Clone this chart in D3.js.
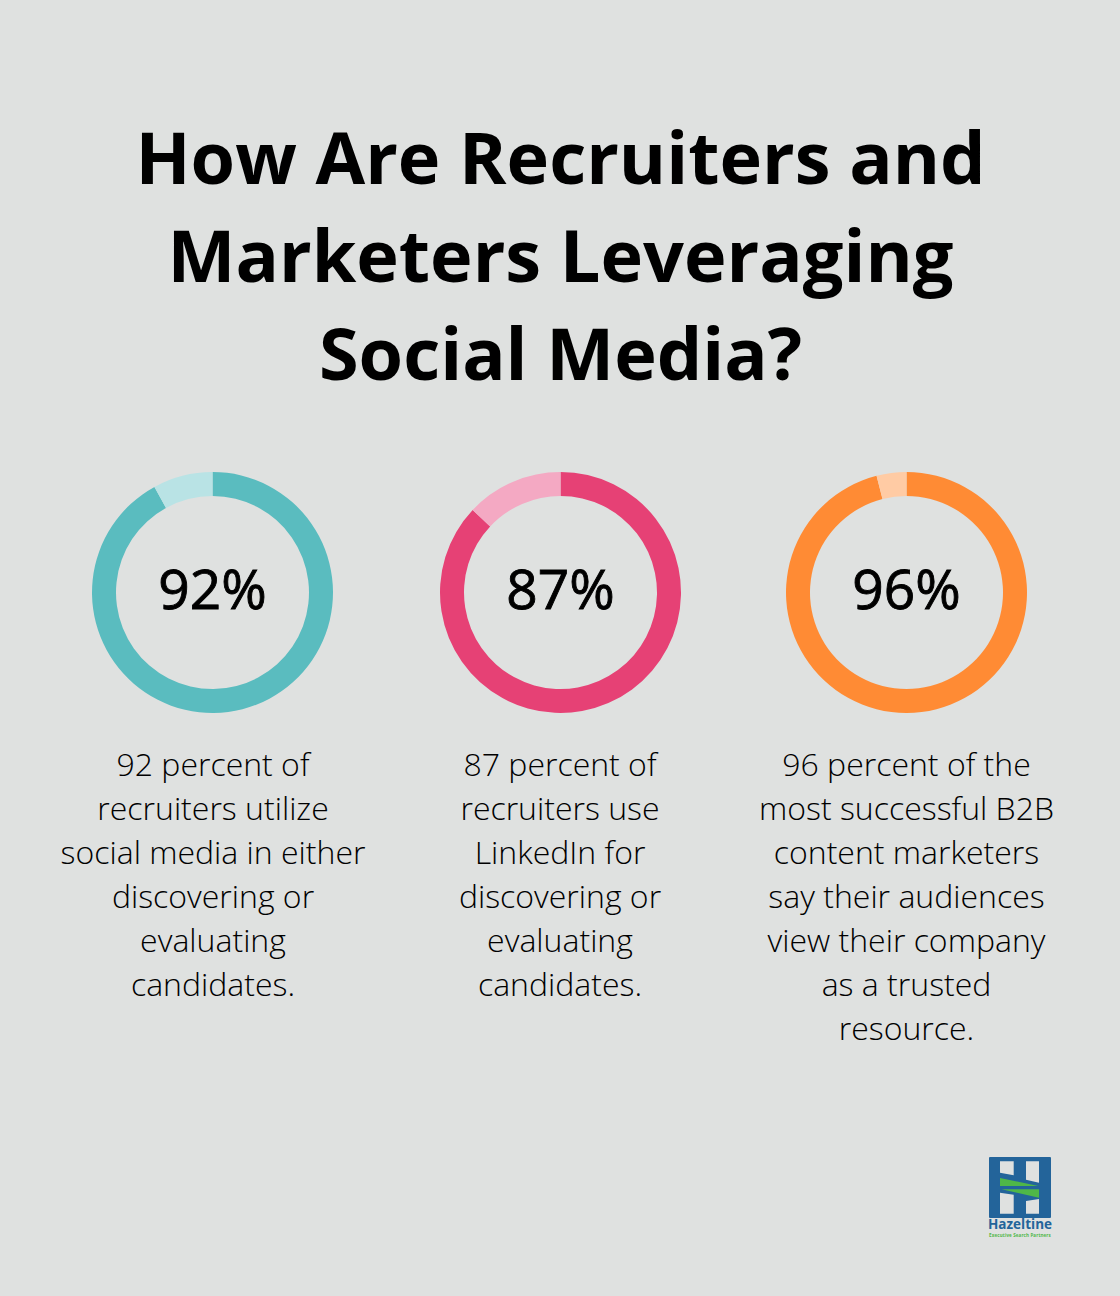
<!DOCTYPE html>
<html>
<head>
<meta charset="utf-8">
<script src="https://cdn.jsdelivr.net/npm/d3@7"></script>
<style>
  html, body { margin: 0; padding: 0; background: #dfe1e0; }
  svg { display: block; }
  text { font-family: "Open Sans", sans-serif; }
</style>
</head>
<body>
<div class="chart"></div>
<script>
// values
var percents = [92, 87, 96];
var colors = ['#5abcbf', '#e64175', '#ff8b34'];
var paleColors = ['#b9e3e5', '#f4a9c3', '#ffcba4'];
var titleLines = ['How Are Recruiters and', 'Marketers Leveraging', 'Social Media?'];
var captions = [
  ['92 percent of', 'recruiters utilize', 'social media in either', 'discovering or', 'evaluating', 'candidates.'],
  ['87 percent of', 'recruiters use', 'LinkedIn for', 'discovering or', 'evaluating', 'candidates.'],
  ['96 percent of the', 'most successful B2B', 'content marketers', 'say their audiences', 'view their company', 'as a trusted', 'resource.']
];

var options = {
  width: 1120,
  height: 1296,
  centers: [212.5, 560.5, 906.5],
  ringY: 592.5,
  outer: 120.5,
  inner: 96.5
};

var svg = d3.select('.chart').append('svg')
  .attr('width', options.width)
  .attr('height', options.height);

svg.append('rect')
  .attr('width', options.width)
  .attr('height', options.height)
  .attr('fill', '#dfe1e0');

// title
svg.selectAll('text.title').data(titleLines).enter().append('text')
  .attr('class', 'title')
  .attr('x', 560.5)
  .attr('y', function(d, i) { return 184 + i * 98; })
  .attr('text-anchor', 'middle')
  .attr('font-size', 72)
  .attr('font-weight', 700)
  .attr('fill', '#000')
  .text(function(d) { return d; });

// rings: the full share starts at 12 o'clock, going clockwise, pale part is the remainder
var pie = d3.pie().sort(null);
var arc = d3.arc().innerRadius(options.inner).outerRadius(options.outer);

var groups = svg.selectAll('g.ring').data(percents).enter().append('g')
  .attr('class', 'ring')
  .attr('transform', function(d, i) {
    return 'translate(' + options.centers[i] + ',' + options.ringY + ')';
  });

groups.each(function(p, i) {
  d3.select(this).selectAll('path').data(pie([p, 100 - p])).enter().append('path')
    .attr('d', arc)
    .attr('fill', function(d, j) { return j === 0 ? colors[i] : paleColors[i]; });
});

// no medium weight installed, so regular plus a hairline stroke
groups.append('text')
  .attr('y', 16.5)
  .attr('text-anchor', 'middle')
  .attr('font-size', 55)
  .attr('font-weight', 400)
  .attr('fill', '#000')
  .attr('stroke', '#000')
  .attr('stroke-width', 0.9)
  .text(function(d) { return d + '%'; });

// captions
captions.forEach(function(lines, i) {
  svg.selectAll('text.cap' + i).data(lines).enter().append('text')
    .attr('class', 'cap' + i)
    .attr('x', i === 0 ? options.centers[i] + 0.5 : options.centers[i] - (i === 1 ? 0.5 : 0))
    .attr('y', function(d, j) { return 776 + j * 44; })
    .attr('text-anchor', 'middle')
    .attr('font-size', 32)
    .attr('font-weight', 300)
    .attr('fill', '#000')
    .text(function(d) { return d; });
});

// logo
var logo = svg.append('g').attr('transform', 'translate(989,1157)');
logo.append('rect').attr('width', 62).attr('height', 61).attr('rx', 1).attr('fill', '#23649a');

var logoWhite = [
  [[11, 4.3], [24.7, 4.3], [24.7, 18.3], [11, 15.7]],
  [[37, 4.3], [50, 4.3], [50, 25.7], [37, 22.7]],
  [[11, 35.7], [24.7, 37.7], [24.7, 56.7], [11, 56.7]],
  [[37, 44], [50, 42], [50, 56.7], [37, 56.7]]
];
var logoGreen = [
  [[11, 21], [49.3, 29], [11, 29]],
  [[12.7, 32.3], [50, 32.3], [50, 40.7]]
];
var line = d3.line();
logo.selectAll('path.w').data(logoWhite).enter().append('path')
  .attr('class', 'w').attr('d', function(d) { return line(d) + 'Z'; }).attr('fill', '#dfe1e0');
logo.selectAll('path.g').data(logoGreen).enter().append('path')
  .attr('class', 'g').attr('d', function(d) { return line(d) + 'Z'; }).attr('fill', '#4fb748');

logo.append('text').attr('x', 31).attr('y', 72).attr('text-anchor', 'middle')
  .attr('font-size', 13.5).attr('font-weight', 700).attr('fill', '#23649a').text('Hazeltine');
logo.append('text').attr('x', 31).attr('y', 80.2).attr('text-anchor', 'middle')
  .attr('font-size', 4.5).attr('font-weight', 700).attr('letter-spacing', 0.13).attr('fill', '#4fb748').text('Executive Search Partners');
</script>
</body>
</html>
